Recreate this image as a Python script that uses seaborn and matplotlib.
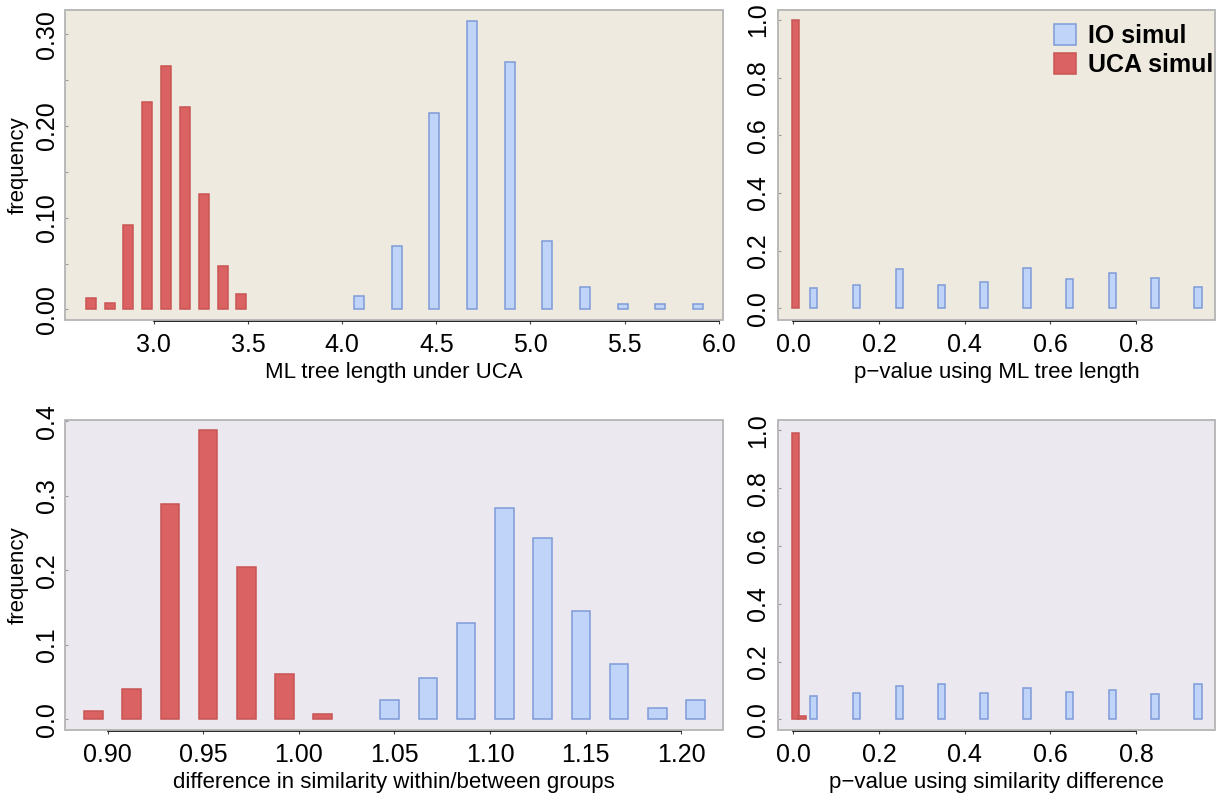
import numpy as np
import pandas as pd
import matplotlib
matplotlib.use("Agg")
import matplotlib.pyplot as plt
import seaborn as sns
from matplotlib.patches import Patch, Rectangle

# ---------------- data ----------------
# top-left: ML tree length under UCA
tl_red_x = [2.665, 2.765, 2.865, 2.965, 3.065, 3.165, 3.265, 3.365, 3.465]
tl_red_y = [0.012, 0.007, 0.092, 0.226, 0.266, 0.221, 0.126, 0.047, 0.017]
tl_blue_x = [4.09, 4.29, 4.49, 4.69, 4.89, 5.09, 5.29, 5.49, 5.69, 5.89]
tl_blue_y = [0.015, 0.069, 0.214, 0.315, 0.270, 0.075, 0.025, 0.006, 0.006, 0.006]

# top-right: p-value using ML tree length
tr_red_x = [0.005]
tr_red_y = [1.0]
tr_blue_x = [0.047, 0.147, 0.247, 0.346, 0.445, 0.545, 0.644, 0.745, 0.844, 0.944]
tr_blue_y = [0.070, 0.080, 0.135, 0.080, 0.090, 0.140, 0.100, 0.124, 0.105, 0.075]

# bottom-left: difference in similarity within/between groups
bl_red_x = [0.8925, 0.9125, 0.9325, 0.9525, 0.9725, 0.9925, 1.0125]
bl_red_y = [0.012, 0.041, 0.289, 0.388, 0.205, 0.061, 0.007]
bl_blue_x = [1.0475, 1.0675, 1.0875, 1.1075, 1.1275, 1.1475, 1.1675, 1.1875, 1.2075]
bl_blue_y = [0.026, 0.056, 0.130, 0.284, 0.244, 0.145, 0.075, 0.016, 0.026]

# bottom-right: p-value using similarity difference
br_red_x = [0.005, 0.020]
br_red_y = [0.990, 0.010]
br_blue_x = [0.047, 0.147, 0.247, 0.346, 0.445, 0.545, 0.644, 0.745, 0.844, 0.944]
br_blue_y = [0.081, 0.091, 0.117, 0.121, 0.091, 0.108, 0.096, 0.102, 0.087, 0.121]

# ticks / labels
tl_xticks = [3.0, 3.5, 4.0, 4.5, 5.0, 5.5, 6.0]
tl_xticklabels = ["3.0", "3.5", "4.0", "4.5", "5.0", "5.5", "6.0"]
tl_yticks = [0.0, 0.1, 0.2, 0.3]
tl_yticklabels = ["0.00", "0.10", "0.20", "0.30"]
tl_yminor = [0.05, 0.15, 0.25]

p_xticks = [0.0, 0.2, 0.4, 0.6, 0.8]
p_xticklabels = ["0.0", "0.2", "0.4", "0.6", "0.8"]
p_yticks = [0.0, 0.2, 0.4, 0.6, 0.8, 1.0]
p_yticklabels = ["0.0", "0.2", "0.4", "0.6", "0.8", "1.0"]

bl_xticks = [0.90, 0.95, 1.00, 1.05, 1.10, 1.15, 1.20]
bl_xticklabels = ["0.90", "0.95", "1.00", "1.05", "1.10", "1.15", "1.20"]
bl_yticks = [0.0, 0.1, 0.2, 0.3, 0.4]
bl_yticklabels = ["0.0", "0.1", "0.2", "0.3", "0.4"]

legend_labels = ["IO simul", "UCA simul"]

# ---------------- style ----------------
RED_FILL, RED_EDGE = "#DA6262", "#C95454"
BLUE_FILL, BLUE_EDGE = "#C0D3F8", "#7E9BD8"
BG_TOP, BG_BOT = "#EEEAE0", "#EBE9EF"
FRAME = "#B4B4B4"

sns.set_theme(style="white")
plt.rcParams['font.family'] = ['Liberation Sans', 'DejaVu Sans']

W, H = 1219, 798
fig = plt.figure(figsize=(W / 100, H / 100), dpi=100)


def add_ax(l, t, r, b):
    return fig.add_axes([l / W, 1 - b / H, (r - l) / W, (b - t) / H])


def bars(ax, x, y, w, fill, edge):
    df = pd.DataFrame({"x": x, "y": y})
    ux = np.unique(x)
    nw = float(np.min(np.diff(ux))) if len(ux) > 1 else 1.0
    sns.barplot(data=df, x="x", y="y", native_scale=True, orient="x",
                width=w / nw, color=fill, edgecolor=edge, linewidth=1.1,
                saturation=1, errorbar=None, ax=ax)


def style(ax, bg, xlim, ylim, xt, xtl, yt, ytl, yminor, xlabel, ylabel, ypad):
    ax.set_facecolor(bg)
    ax.set_xlim(xlim)
    ax.set_ylim(ylim)
    for s in ["left", "top", "right"]:
        ax.spines[s].set_visible(False)
    ax.spines["bottom"].set_color("black")
    ax.spines["bottom"].set_linewidth(1.2)
    ax.spines["bottom"].set_bounds(xt[0], xt[-1])
    ax.spines["bottom"].set_position(("outward", 1))
    ax.add_patch(Rectangle((0, 0), 1, 1, transform=ax.transAxes, fill=False,
                           edgecolor=FRAME, lw=1.3, clip_on=False, zorder=5))
    ax.set_xticks(xt)
    ax.set_xticklabels(xtl)
    ax.set_yticks(yt)
    ax.set_yticklabels(ytl)
    if yminor:
        ax.set_yticks(yminor, minor=True)
    ax.tick_params(axis="x", which="both", bottom=True, length=2, width=0.8,
                   color="#444444", pad=6, labelsize=18, labelcolor="black")
    ax.tick_params(axis="y", which="both", left=True, length=2, width=0.8,
                   direction="in", color="#999999", pad=ypad, labelsize=18,
                   labelrotation=90, labelcolor="black")
    for lab in ax.get_yticklabels():
        lab.set_va("center")
    ax.set_xlabel(xlabel, fontsize=16, labelpad=4, color="black")
    ax.set_ylabel(ylabel, fontsize=16, color="black")
    # place the y label so its right (descender) side sits at ~x=29 px
    ax.yaxis.set_label_coords(-(ax.get_position().x0 * W - 29) /
                              (ax.get_position().width * W), 0.5)


# top-left
ax1 = add_ax(65, 10, 723, 320)
bars(ax1, tl_red_x, tl_red_y, 0.053, RED_FILL, RED_EDGE)
bars(ax1, tl_blue_x, tl_blue_y, 0.053, BLUE_FILL, BLUE_EDGE)
style(ax1, BG_TOP, (2.528, 6.023), (-0.0115, 0.3266), tl_xticks, tl_xticklabels,
      tl_yticks, tl_yticklabels, tl_yminor, "ML tree length under UCA", "frequency", 4.5)

# top-right
ax2 = add_ax(778, 10, 1215, 320)
bars(ax2, tr_red_x, tr_red_y, 0.017, RED_FILL, RED_EDGE)
bars(ax2, tr_blue_x, tr_blue_y, 0.017, BLUE_FILL, BLUE_EDGE)
style(ax2, BG_TOP, (-0.036, 0.984), (-0.0406, 1.035), p_xticks, p_xticklabels,
      p_yticks, p_yticklabels, None, "p\u2212value using ML tree length", "", 6)
handles = [Patch(facecolor=BLUE_FILL, edgecolor=BLUE_EDGE, linewidth=1.1),
           Patch(facecolor=RED_FILL, edgecolor=RED_EDGE, linewidth=1.1)]
ax2.legend(handles, legend_labels, loc="upper right", bbox_to_anchor=(0.995, 0.955),
           frameon=False, borderaxespad=0, borderpad=0, handlelength=0.9,
           handleheight=0.9, handletextpad=0.45, labelspacing=0.2,
           labelcolor="black", prop={"size": 18, "weight": "bold"})

# bottom-left
ax3 = add_ax(65, 420, 723, 730)
bars(ax3, bl_red_x, bl_red_y, 0.0097, RED_FILL, RED_EDGE)
bars(ax3, bl_blue_x, bl_blue_y, 0.0097, BLUE_FILL, BLUE_EDGE)
style(ax3, BG_BOT, (0.8777, 1.2218), (-0.0141, 0.402), bl_xticks, bl_xticklabels,
      bl_yticks, bl_yticklabels, None, "difference in similarity within/between groups",
      "frequency", 4.5)

# bottom-right
ax4 = add_ax(778, 420, 1215, 730)
bars(ax4, br_red_x, br_red_y, 0.017, RED_FILL, RED_EDGE)
bars(ax4, br_blue_x, br_blue_y, 0.017, BLUE_FILL, BLUE_EDGE)
style(ax4, BG_BOT, (-0.036, 0.984), (-0.037, 1.036), p_xticks, p_xticklabels,
      p_yticks, p_yticklabels, None, "p\u2212value using similarity difference", "", 6)

fig.savefig("out.png", dpi=100)
